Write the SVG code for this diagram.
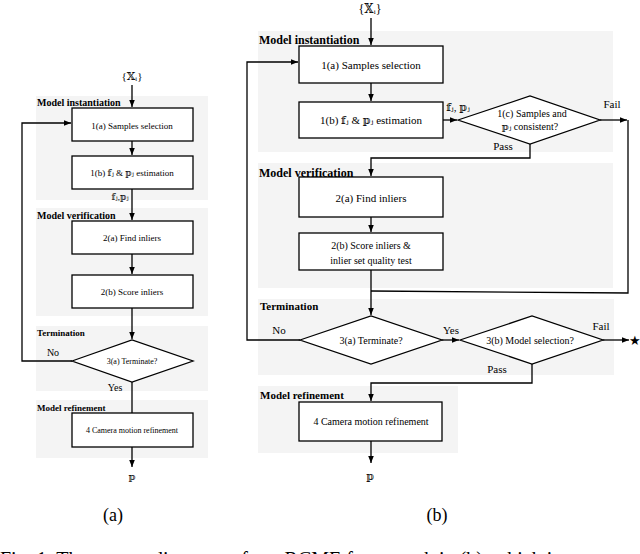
<svg xmlns="http://www.w3.org/2000/svg" width="640" height="554" viewBox="0 0 640 554">
<defs>
<marker id="ah" viewBox="0 0 10 10" refX="10" refY="5" markerWidth="7" markerHeight="7" orient="auto" markerUnits="userSpaceOnUse"><path d="M0,1 L10,5 L0,9 z" fill="#000"/></marker>
<style>
.bg{fill:#f4f4f4}
.bx{fill:#fff;stroke:#000;stroke-width:1.3}
.ln{fill:none;stroke:#000;stroke-width:1.3}
text{font-family:"Liberation Serif","Times New Roman","DejaVu Serif",serif;fill:#000}
.t{text-anchor:middle}
.h{font-weight:bold}
</style>
</defs>
<rect width="640" height="554" fill="#fff"/>
<g id="panels">
<rect class="bg" x="36" y="96" width="172" height="104"/>
<rect class="bg" x="36" y="208" width="172" height="108"/>
<rect class="bg" x="36" y="326" width="172" height="65"/>
<rect class="bg" x="36" y="400" width="172" height="58"/>
<rect class="bg" x="258" y="31" width="355" height="121"/>
<rect class="bg" x="258" y="163" width="355" height="125"/>
<rect class="bg" x="258" y="299" width="356" height="76"/>
<rect class="bg" x="258" y="386" width="200" height="67"/>
<text class="h" x="37" y="106" font-size="10">Model instantiation</text>
<text class="h" x="37" y="219" font-size="10">Model verification</text>
<text class="h" x="37" y="336" font-size="9">Termination</text>
<text class="h" x="37" y="411" font-size="9">Model refinement</text>
<text class="h" x="259" y="44" font-size="12">Model instantiation</text>
<text class="h" x="259" y="177" font-size="12">Model verification</text>
<text class="h" x="260" y="310" font-size="11">Termination</text>
<text class="h" x="260" y="399" font-size="11">Model refinement</text>
</g>
<g id="connectors">
<path class="ln" d="M132,85 V107" marker-end="url(#ah)"/>
<path class="ln" d="M132,141 V155" marker-end="url(#ah)"/>
<path class="ln" d="M132,189 V220" marker-end="url(#ah)"/>
<path class="ln" d="M132,254 V274" marker-end="url(#ah)"/>
<path class="ln" d="M132,308 V339" marker-end="url(#ah)"/>
<path class="ln" d="M132,382 V413"/>
<path class="ln" d="M72,361 H22 V123 H71" marker-end="url(#ah)"/>
<path class="ln" d="M132,447 V467" marker-end="url(#ah)"/>
<path class="ln" d="M371,18 V45" marker-end="url(#ah)"/>
<path class="ln" d="M371,83 V101" marker-end="url(#ah)"/>
<path class="ln" d="M443,120 H457" marker-end="url(#ah)"/>
<path class="ln" d="M600,120 H627" marker-end="url(#ah)"/>
<path class="ln" d="M628,120 V293 L371,291"/>
<path class="ln" d="M530,144 V158 H371 V176" marker-end="url(#ah)"/>
<path class="ln" d="M371,217 V232" marker-end="url(#ah)"/>
<path class="ln" d="M371,270 V315" marker-end="url(#ah)"/>
<path class="ln" d="M300,340 H247 V62 H298" marker-end="url(#ah)"/>
<path class="ln" d="M442,340 H459" marker-end="url(#ah)"/>
<path class="ln" d="M603,340 H629" marker-end="url(#ah)"/>
<path class="ln" d="M532,364 V383 H371 V401" marker-end="url(#ah)"/>
<path class="ln" d="M371,441 V463" marker-end="url(#ah)"/>
</g>
<g id="a">
<text class="t" x="132" y="80" font-size="11">{𝕏ᵢ}</text>
<g id="a1a"><rect class="bx" x="72" y="108" width="121" height="33"/><text class="t" x="132" y="129" font-size="9">1(a) Samples selection</text></g>
<g id="a1b"><rect class="bx" x="72" y="156" width="121" height="33"/><text class="t" x="132" y="176" font-size="9">1(b) 𝕗ⱼ &amp; 𝕡ⱼ estimation</text></g>
<text class="t" x="120" y="200" font-size="9">𝕗ⱼ,𝕡ⱼ</text>
<g id="a2a"><rect class="bx" x="72" y="221" width="121" height="33"/><text class="t" x="132" y="241" font-size="9">2(a) Find inliers</text></g>
<g id="a2b"><rect class="bx" x="72" y="275" width="121" height="33"/><text class="t" x="132" y="295" font-size="9">2(b) Score inliers</text></g>
<g id="a3a"><polygon class="bx" points="72,361 132,340 193,361 132,382"/><text class="t" x="132" y="364" font-size="8">3(a) Terminate?</text></g>
<text class="t" x="53" y="356" font-size="10">No</text>
<text class="t" x="115" y="391" font-size="10">Yes</text>
<g id="a4"><rect class="bx" x="72" y="413" width="121" height="34"/><text class="t" x="132" y="433" font-size="8">4 Camera motion refinement</text></g>
<text class="t" x="132" y="480" font-size="10">𝕡</text>
<text class="t" x="113" y="521" font-size="18">(a)</text>
</g>
<g id="b">
<text class="t" x="370" y="13" font-size="12">{𝕏ᵢ}</text>
<g id="b1a"><rect class="bx" x="299" y="46" width="144" height="37"/><text class="t" x="371" y="69" font-size="11">1(a) Samples selection</text></g>
<g id="b1b"><rect class="bx" x="299" y="102" width="144" height="36"/><text class="t" x="371" y="124" font-size="11">1(b) 𝕗ⱼ &amp; 𝕡ⱼ estimation</text></g>
<text class="t" x="458" y="111" font-size="11">𝕗ⱼ, 𝕡ⱼ</text>
<g id="b1c"><polygon class="bx" points="458,120 530,96 600,120 530,144"/><text class="t" x="532" y="117" font-size="10">1(c) Samples and</text><text class="t" x="530" y="130" font-size="10">𝕡ⱼ consistent?</text></g>
<text class="t" x="612" y="108" font-size="11">Fail</text>
<text class="t" x="503" y="150" font-size="11">Pass</text>
<g id="b2a"><rect class="bx" x="299" y="177" width="144" height="40"/><text class="t" x="371" y="202" font-size="11">2(a) Find inliers</text></g>
<g id="b2b"><rect class="bx" x="299" y="233" width="144" height="37"/><text class="t" x="371" y="249" font-size="10">2(b) Score inliers &amp;</text><text class="t" x="371" y="264" font-size="10">inlier set quality test</text></g>
<g id="b3a"><polygon class="bx" points="300,340 371,316 442,340 371,364"/><text class="t" x="371" y="344" font-size="10">3(a) Terminate?</text></g>
<text class="t" x="279" y="334" font-size="11">No</text>
<text class="t" x="451" y="334" font-size="11">Yes</text>
<g id="b3b"><polygon class="bx" points="460,340 532,316 603,340 532,364"/><text class="t" x="530" y="344" font-size="10">3(b) Model selection?</text></g>
<text class="t" x="601" y="330" font-size="11">Fail</text>
<text class="t" x="497" y="373" font-size="11">Pass</text>
<text class="t" x="635" y="345" font-size="13">★</text>
<g id="b4"><rect class="bx" x="299" y="402" width="143" height="39"/><text class="t" x="371" y="425" font-size="10">4 Camera motion refinement</text></g>
<text class="t" x="370" y="480" font-size="11">𝕡</text>
<text class="t" x="437" y="521" font-size="18">(b)</text>
</g>
<text x="0" y="566" font-size="20">Fig. 1.   The system diagrams of our RCME framework in (b), which is</text>
</svg>
